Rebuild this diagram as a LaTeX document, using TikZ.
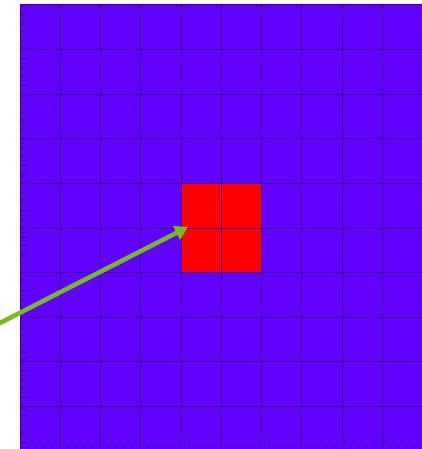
\documentclass[tikz,border=0pt]{standalone}
\usetikzlibrary{arrows.meta}
\definecolor{bgpurple}{RGB}{98,0,255}
\definecolor{gridc}{RGB}{60,0,140}
\definecolor{arrowgreen}{RGB}{118,186,30}
\tikzset{
  gridline/.style={draw=gridc, line width=1pt},
  tickline/.style={draw=gridc, line width=0.8pt},
  pointer/.style={draw=arrowgreen, line width=4.5pt, -{Triangle[length=13pt,width=15pt]}}
}
\begin{document}
\begin{tikzpicture}[x=1pt,y=-1pt]
\useasboundingbox (0,0) rectangle (422,449);
% background field
\fill[bgpurple] (20,5) rectangle (422,449);
% red block
\fill[red] (182,184) rectangle (262,273);
% grid
\foreach \i in {0,...,10} {
  \pgfmathsetmacro{\xx}{20+40.25*\i}
  \draw[gridline] (\xx,5) -- (\xx,449);
}
\foreach \j in {0,...,10} {
  \pgfmathsetmacro{\yy}{5+44.6*\j}
  \draw[gridline] (20,\yy) -- (422,\yy);
}
% left minor ticks
\foreach \k in {1,...,50} {
  \pgfmathsetmacro{\yy}{5+8.92*\k}
  \draw[tickline] (20,\yy) -- (27,\yy);
}
% bottom minor ticks
\foreach \k in {1,...,50} {
  \pgfmathsetmacro{\xx}{20+8.05*\k}
  \draw[tickline] (\xx,449) -- (\xx,443);
}
% arrow
\coordinate (tail) at (-2,324);
\coordinate (tip) at (188,227);
\draw[pointer] (tail) -- (tip);
\end{tikzpicture}
\end{document}
